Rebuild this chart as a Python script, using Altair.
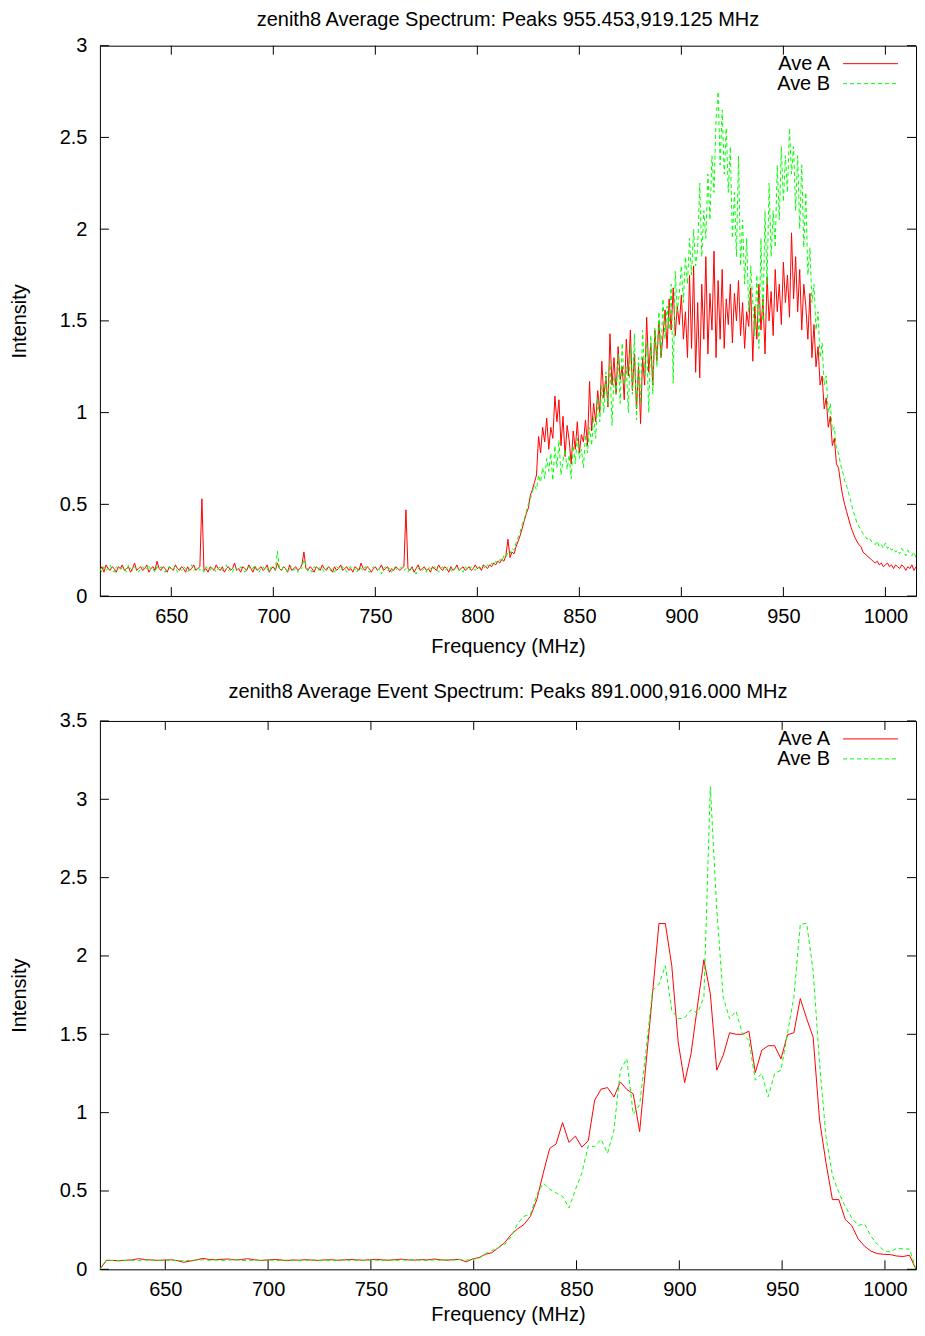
import altair as alt
import pandas as pd

FONT = "Liberation Sans"
FS = 20
RED = "#ff0000"
GREEN = "#00ff00"

TOP_TITLE = "zenith8 Average Spectrum: Peaks 955.453,919.125 MHz"
BOT_TITLE = "zenith8 Average Event Spectrum: Peaks 891.000,916.000 MHz"
X_TITLE = "Frequency (MHz)"
Y_TITLE = "Intensity"
SERIES = ["Ave A", "Ave B"]

X_TICKS = [650, 700, 750, 800, 850, 900, 950, 1000]
TOP_Y_TICKS = [0, 0.5, 1, 1.5, 2, 2.5, 3]
BOT_Y_TICKS = [0, 0.5, 1, 1.5, 2, 2.5, 3, 3.5]

# ---- top panel: average spectrum, one value per MHz from 615 MHz ----
TOP_F0, TOP_DF = 615.0, 1.0
TOP_XDOMAIN = [615.0, 1015.0]
top_a = [
    0.14, 0.16, 0.13, 0.17, 0.15, 0.14, 0.16, 0.15, 0.13, 0.16,
    0.15, 0.17, 0.14, 0.15, 0.16, 0.13, 0.15, 0.18, 0.14, 0.15,
    0.16, 0.14, 0.15, 0.17, 0.13, 0.15, 0.16, 0.14, 0.19, 0.15,
    0.14, 0.16, 0.15, 0.13, 0.16, 0.15, 0.14, 0.17, 0.15, 0.14,
    0.16, 0.15, 0.13, 0.16, 0.14, 0.15, 0.17, 0.14, 0.15, 0.16,
    0.53, 0.14, 0.15, 0.13, 0.16, 0.15, 0.14, 0.17, 0.15, 0.14,
    0.16, 0.13, 0.15, 0.16, 0.14, 0.15, 0.18, 0.14, 0.15, 0.13,
    0.16, 0.15, 0.14, 0.17, 0.15, 0.13, 0.16, 0.14, 0.15, 0.16,
    0.14, 0.15, 0.17, 0.13, 0.15, 0.16, 0.14, 0.18, 0.15, 0.14,
    0.16, 0.15, 0.13, 0.17, 0.14, 0.15, 0.16, 0.14, 0.15, 0.17,
    0.24, 0.15, 0.14, 0.16, 0.15, 0.13, 0.16, 0.15, 0.14, 0.17,
    0.15, 0.14, 0.16, 0.15, 0.13, 0.16, 0.14, 0.15, 0.17, 0.14,
    0.15, 0.16, 0.14, 0.15, 0.13, 0.16, 0.15, 0.14, 0.18, 0.15,
    0.14, 0.16, 0.15, 0.13, 0.15, 0.16, 0.14, 0.15, 0.17, 0.14,
    0.15, 0.16, 0.13, 0.15, 0.14, 0.16, 0.15, 0.14, 0.15, 0.16,
    0.47, 0.15, 0.14, 0.16, 0.13, 0.15, 0.17, 0.14, 0.15, 0.16,
    0.14, 0.15, 0.13, 0.16, 0.15, 0.14, 0.17, 0.15, 0.14, 0.16,
    0.15, 0.13, 0.16, 0.14, 0.15, 0.17, 0.14, 0.15, 0.16, 0.14,
    0.15, 0.16, 0.14, 0.15, 0.17, 0.15, 0.16, 0.14, 0.17, 0.16,
    0.15, 0.17, 0.16, 0.18, 0.17, 0.19, 0.18, 0.20, 0.19, 0.22,
    0.31, 0.21, 0.24, 0.23, 0.27, 0.30, 0.33, 0.37, 0.41, 0.45,
    0.48, 0.55, 0.58, 0.62, 0.66, 0.87, 0.78, 0.92, 0.84, 0.97,
    0.80, 0.92, 0.86, 1.09, 0.95, 1.07, 0.82, 0.98, 0.76, 0.93,
    0.85, 0.72, 0.90, 0.80, 0.95, 0.78, 0.88, 0.84, 0.96, 0.82,
    1.17, 0.90, 1.05, 0.95, 1.12, 1.00, 1.28, 1.08, 1.20, 1.03,
    1.43, 1.15, 1.30, 1.10, 1.36, 1.18, 1.25, 1.07, 1.40, 1.20,
    1.45, 1.12, 1.32, 1.02, 1.25, 0.94, 1.30, 1.15, 1.52, 1.22,
    1.38, 1.15, 1.45, 1.28, 1.50, 1.30, 1.42, 1.56, 1.35, 1.62,
    1.45, 1.68, 1.42, 1.58, 1.48, 1.64, 1.40, 1.55, 1.30, 1.75,
    1.35, 1.80, 1.22, 1.60, 1.19, 1.70, 1.40, 1.85, 1.32, 1.65,
    1.45, 1.88, 1.30, 1.72, 1.40, 1.78, 1.35, 1.62, 1.48, 1.70,
    1.38, 1.65, 1.50, 1.72, 1.42, 1.60, 1.35, 1.55, 1.47, 1.68,
    1.28, 1.58, 1.40, 1.70, 1.45, 1.62, 1.32, 1.74, 1.50, 1.66,
    1.42, 1.78, 1.55, 1.70, 1.48, 1.82, 1.60, 1.75, 1.52, 1.98,
    1.62, 1.85, 1.55, 1.78, 1.45, 1.70, 1.58, 1.40, 1.65, 1.30,
    1.48, 1.25, 1.36, 1.15, 1.20, 1.02, 1.08, 0.92, 0.98, 0.82,
    0.86, 0.72, 0.70, 0.62, 0.55, 0.50, 0.46, 0.42, 0.38, 0.35,
    0.32, 0.30, 0.28, 0.27, 0.24, 0.23, 0.22, 0.21, 0.20, 0.19,
    0.18, 0.19, 0.17, 0.18, 0.16, 0.17, 0.18, 0.16, 0.17, 0.15,
    0.17, 0.16, 0.15, 0.17, 0.16, 0.14, 0.16, 0.15, 0.17, 0.14,
    0.16,
]
top_b = [
    0.15, 0.13, 0.16, 0.14, 0.15, 0.17, 0.14, 0.13, 0.16, 0.15,
    0.14, 0.16, 0.15, 0.13, 0.17, 0.15, 0.14, 0.16, 0.15, 0.13,
    0.15, 0.16, 0.14, 0.15, 0.17, 0.14, 0.15, 0.13, 0.16, 0.15,
    0.16, 0.14, 0.13, 0.15, 0.16, 0.14, 0.15, 0.16, 0.13, 0.15,
    0.14, 0.16, 0.15, 0.13, 0.15, 0.17, 0.14, 0.15, 0.16, 0.14,
    0.15, 0.13, 0.16, 0.15, 0.14, 0.16, 0.15, 0.13, 0.15, 0.16,
    0.14, 0.15, 0.17, 0.14, 0.15, 0.13, 0.16, 0.15, 0.14, 0.16,
    0.15, 0.13, 0.15, 0.16, 0.14, 0.15, 0.17, 0.14, 0.13, 0.15,
    0.16, 0.14, 0.15, 0.13, 0.16, 0.15, 0.14, 0.245, 0.15, 0.14,
    0.16, 0.15, 0.13, 0.15, 0.16, 0.14, 0.15, 0.13, 0.16, 0.15,
    0.20, 0.17, 0.14, 0.15, 0.13, 0.16, 0.15, 0.14, 0.16, 0.15,
    0.13, 0.15, 0.16, 0.14, 0.15, 0.13, 0.16, 0.15, 0.14, 0.16,
    0.15, 0.13, 0.15, 0.16, 0.14, 0.15, 0.13, 0.16, 0.15, 0.14,
    0.16, 0.15, 0.13, 0.14, 0.16, 0.15, 0.14, 0.15, 0.12, 0.15,
    0.16, 0.14, 0.15, 0.13, 0.16, 0.15, 0.14, 0.15, 0.16, 0.14,
    0.15, 0.13, 0.16, 0.15, 0.14, 0.12, 0.15, 0.16, 0.14, 0.15,
    0.13, 0.16, 0.15, 0.14, 0.16, 0.15, 0.13, 0.15, 0.16, 0.14,
    0.15, 0.16, 0.14, 0.13, 0.15, 0.16, 0.14, 0.15, 0.13, 0.16,
    0.15, 0.14, 0.16, 0.15, 0.14, 0.16, 0.15, 0.17, 0.16, 0.15,
    0.17, 0.16, 0.18, 0.17, 0.19, 0.18, 0.20, 0.19, 0.22, 0.21,
    0.24, 0.23, 0.26, 0.25, 0.29, 0.32, 0.35, 0.39, 0.42, 0.46,
    0.50, 0.53, 0.57, 0.60, 0.58, 0.66, 0.62, 0.70, 0.64, 0.75,
    0.68, 0.78, 0.63, 0.82, 0.70, 0.85, 0.66, 0.74, 0.80, 0.69,
    0.77, 0.64, 0.82, 0.72, 0.86, 0.75, 0.80, 0.70, 0.88, 0.78,
    0.92, 0.82, 0.98, 0.86, 1.08, 0.95, 1.15, 1.00, 1.22, 1.04,
    1.28, 0.93, 1.20, 1.10, 1.32, 1.05, 1.38, 1.15, 1.25, 1.00,
    1.36, 1.10, 1.43, 0.96, 1.30, 1.05, 1.45, 1.20, 1.38, 1.00,
    1.42, 1.10, 1.46, 1.25, 1.55, 1.30, 1.62, 1.40, 1.58, 1.45,
    1.70, 1.16, 1.77, 1.55, 1.65, 1.80, 1.60, 1.85, 1.70, 1.95,
    1.75, 2.00, 1.80, 1.90, 2.25, 1.85, 2.10, 1.95, 2.30, 2.05,
    2.40, 2.20, 2.60, 2.75, 2.35, 2.65, 2.30, 2.55, 2.20, 2.45,
    1.95, 2.20, 1.85, 2.40, 1.80, 2.05, 1.70, 1.95, 1.55, 1.80,
    1.60, 1.42, 1.75, 1.35, 1.95, 1.50, 2.10, 1.70, 2.25, 1.85,
    2.10, 1.90, 2.35, 2.05, 2.45, 2.15, 2.40, 2.20, 2.55, 2.30,
    2.45, 2.10, 2.40, 2.00, 2.35, 1.90, 2.20, 1.75, 1.90, 1.60,
    1.70, 1.45, 1.55, 1.30, 1.38, 1.15, 1.20, 1.00, 1.05, 0.90,
    0.92, 0.80, 0.78, 0.72, 0.68, 0.63, 0.60, 0.56, 0.52, 0.47,
    0.44, 0.40, 0.38, 0.36, 0.34, 0.33, 0.31, 0.32, 0.30, 0.29,
    0.28, 0.30, 0.27, 0.28, 0.26, 0.29, 0.26, 0.27, 0.25, 0.26,
    0.24, 0.25, 0.23, 0.26, 0.24, 0.22, 0.25, 0.23, 0.22, 0.24,
    0.21,
]

# ---- bottom panel: average event spectrum, 3.125 MHz bins from 618.2 MHz ----
BOT_F0, BOT_DF = 618.2, 3.125
BOT_XDOMAIN = [618.2, 1015.1]
bot_a = [
    0.0,
    0.058, 0.057, 0.055, 0.058, 0.060, 0.068, 0.062, 0.060, 0.057, 0.059,
    0.061, 0.056, 0.045, 0.052, 0.060, 0.070, 0.063, 0.061, 0.064, 0.066,
    0.060, 0.062, 0.068, 0.061, 0.057, 0.059, 0.063, 0.061, 0.055, 0.060,
    0.058, 0.062, 0.059, 0.057, 0.060, 0.061, 0.058, 0.060, 0.063, 0.060,
    0.058, 0.061, 0.064, 0.060, 0.058, 0.062, 0.065, 0.060, 0.059, 0.062,
    0.060, 0.066, 0.061, 0.058, 0.062, 0.063, 0.048,
    0.066, 0.075, 0.096, 0.106, 0.138, 0.170, 0.222, 0.258, 0.286, 0.339,
    0.445, 0.614, 0.772, 0.800, 0.937, 0.810, 0.850, 0.780, 0.820, 1.080,
    1.150, 1.160, 1.100, 1.196, 1.148, 1.120, 0.879, 1.317, 1.755, 2.207,
    2.207, 1.938, 1.450, 1.192, 1.376, 1.680, 1.976, 1.758, 1.271, 1.366,
    1.510, 1.500, 1.500, 1.520, 1.256, 1.398, 1.427, 1.427, 1.343, 1.497,
    1.510, 1.728, 1.599, 1.482, 0.953, 0.680, 0.445, 0.445, 0.318, 0.280,
    0.195, 0.148, 0.116, 0.100, 0.096, 0.094, 0.085, 0.082, 0.090, 0.0,
]
bot_b = [
    0.0,
    0.055, 0.056, 0.054, 0.057, 0.058, 0.056, 0.060, 0.058, 0.057, 0.059,
    0.058, 0.056, 0.055, 0.057, 0.059, 0.061, 0.058, 0.060, 0.057, 0.059,
    0.062, 0.058, 0.056, 0.059, 0.057, 0.060, 0.058, 0.056, 0.059, 0.057,
    0.055, 0.058, 0.060, 0.057, 0.059, 0.056, 0.058, 0.061, 0.057, 0.059,
    0.057, 0.060, 0.058, 0.056, 0.059, 0.057, 0.060, 0.058, 0.062, 0.058,
    0.057, 0.060, 0.058, 0.061, 0.059, 0.062, 0.058,
    0.064, 0.070, 0.100, 0.120, 0.138, 0.159, 0.207, 0.292, 0.339, 0.350,
    0.476, 0.550, 0.512, 0.487, 0.466, 0.392, 0.508, 0.614, 0.788, 0.783,
    0.830, 0.741, 0.889, 1.270, 1.345, 0.990, 1.050, 1.398, 1.779, 1.820,
    1.938, 1.652, 1.599, 1.605, 1.656, 1.635, 1.737, 3.080, 2.300, 1.737,
    1.599, 1.648, 1.504, 1.461, 1.207, 1.250, 1.101, 1.250, 1.271, 1.504,
    1.737, 2.203, 2.207, 1.906, 1.313, 0.847, 0.600, 0.490, 0.400, 0.330,
    0.280, 0.290, 0.210, 0.160, 0.120, 0.110, 0.135, 0.130, 0.130, 0.0,
]

W = 817
TICK = 9


def series_df(vals, f0, df):
    return pd.DataFrame({"f": [f0 + df * i for i in range(len(vals))], "v": vals})


def panel(a, b, f0, df, xdom, yticks, title, h, xtitle_pad, title_y):
    xs = alt.Scale(domain=xdom, nice=False, zero=False)
    ys = alt.Scale(domain=[0, yticks[-1]], nice=False, zero=False)
    xaxis = alt.Axis(values=X_TICKS, format="d", title=X_TITLE, ticks=False,
                     domain=False, grid=False, labelPadding=10, titlePadding=xtitle_pad)
    yaxis = alt.Axis(values=yticks, format="~g", title=Y_TITLE, ticks=False,
                     domain=False, grid=False, labelPadding=13, titlePadding=30)
    X = alt.X("f:Q", scale=xs, axis=xaxis)
    Y = alt.Y("v:Q", scale=ys, axis=yaxis)

    line_a = alt.Chart(series_df(a, f0, df)).mark_line(
        color=RED, strokeWidth=1, clip=True).encode(x=X, y=Y)
    line_b = alt.Chart(series_df(b, f0, df)).mark_line(
        color=GREEN, strokeWidth=1, strokeDash=[4, 3], clip=True).encode(x=X, y=Y)

    xt = pd.DataFrame({"f": X_TICKS})
    yt = pd.DataFrame({"v": yticks})
    t_bottom = alt.Chart(xt).mark_rule(color="black").encode(
        x=X, y=alt.value(h), y2=alt.value(h - TICK))
    t_top = alt.Chart(xt).mark_rule(color="black").encode(
        x=X, y=alt.value(0), y2=alt.value(TICK))
    t_left = alt.Chart(yt).mark_rule(color="black").encode(
        y=Y, x=alt.value(0), x2=alt.value(TICK))
    t_right = alt.Chart(yt).mark_rule(color="black").encode(
        y=Y, x=alt.value(W), x2=alt.value(W - TICK))

    ttl = alt.Chart(pd.DataFrame({"t": [title]})).mark_text(
        align="center", baseline="middle", fontSize=FS, font=FONT, color="black").encode(
        x=alt.value(W / 2), y=alt.value(title_y), text="t:N")

    la = pd.DataFrame({"label": [SERIES[0]]})
    lb = pd.DataFrame({"label": [SERIES[1]]})
    txt_a = alt.Chart(la).mark_text(align="right", baseline="middle", fontSize=FS,
                                    font=FONT, color="black").encode(
        x=alt.value(W - 86), y=alt.value(18), text="label:N")
    txt_b = alt.Chart(lb).mark_text(align="right", baseline="middle", fontSize=FS,
                                    font=FONT, color="black").encode(
        x=alt.value(W - 86), y=alt.value(38), text="label:N")
    key_a = alt.Chart(la).mark_rule(color=RED, strokeWidth=1).encode(
        x=alt.value(W - 73), x2=alt.value(W - 18), y=alt.value(18))
    key_b = alt.Chart(lb).mark_rule(color=GREEN, strokeWidth=1, strokeDash=[4, 3]).encode(
        x=alt.value(W - 73), x2=alt.value(W - 18), y=alt.value(38))

    return alt.layer(line_a, line_b, t_bottom, t_top, t_left, t_right,
                     ttl, txt_a, txt_b, key_a, key_b).properties(width=W, height=h)


top = panel(top_a, top_b, TOP_F0, TOP_DF, TOP_XDOMAIN, TOP_Y_TICKS, TOP_TITLE, 551, 10, -26)
bot = panel(bot_a, bot_b, BOT_F0, BOT_DF, BOT_XDOMAIN, BOT_Y_TICKS, BOT_TITLE, 549, 5, -29)

chart = alt.vconcat(top, bot, spacing=24).properties(
    padding={"left": 0, "top": 0, "right": 0, "bottom": -1},
    background="white",
).configure_view(stroke="black", strokeWidth=1).configure_axis(
    labelFont=FONT, titleFont=FONT, labelFontSize=FS, titleFontSize=FS,
    titleFontWeight="normal", labelColor="black", titleColor="black",
)

chart.save("out.html", embed_options={"renderer": "svg", "actions": False})
